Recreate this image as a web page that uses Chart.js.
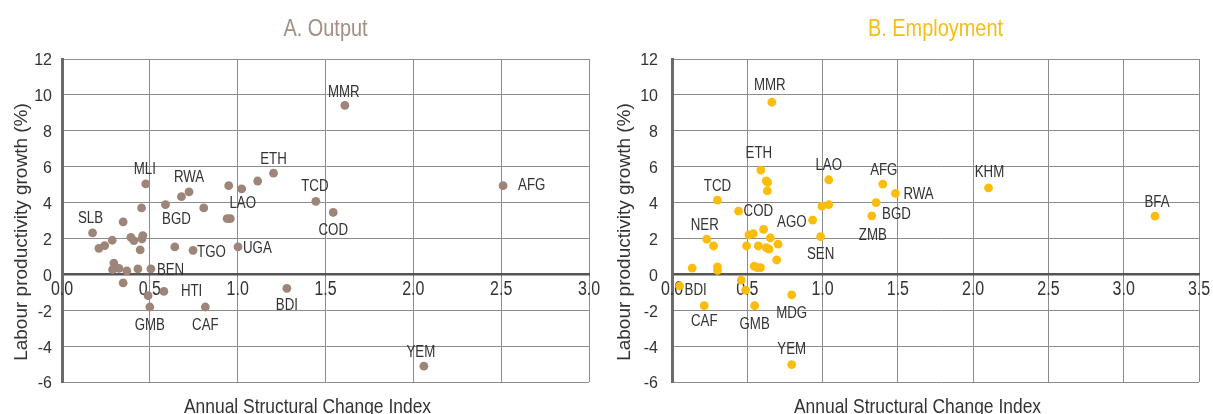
<!DOCTYPE html>
<html>
<head>
<meta charset="utf-8">
<script src="https://cdn.jsdelivr.net/npm/chart.js@4/dist/chart.umd.min.js"></script>
<style>
  body { margin: 0; background: #fff; width: 1213px; height: 414px; overflow: hidden; position: relative; }
  canvas { position: absolute; top: 0; }
  #output-chart { left: 0; }
  #employment-chart { left: 606px; }
</style>
</head>
<body>
<canvas id="output-chart" width="606" height="414"></canvas>
<canvas id="employment-chart" width="607" height="414"></canvas>
<script>
// A. Output
const outputCodes = ['MLI', 'RWA', '', '', 'LAO', '', 'ETH', '', 'BGD', '', '', '', '', 'SLB', '', '', '', '', '', '', '', '',
    '', 'TGO', 'UGA', '', '', '', '', '', 'BEN', '', 'HTI', '', 'GMB', 'CAF', 'BDI', 'MMR', 'TCD', 'COD', 'AFG', 'YEM'];
const outputX = [0.477, 0.723, 0.68, 0.949, 1.023, 1.114, 1.204, 0.453, 0.589, 0.807, 0.94, 0.958, 0.348, 0.174, 0.392, 0.409,
    0.46, 0.455, 0.286, 0.243, 0.21, 0.445, 0.642, 0.746, 1.002, 0.295, 0.288, 0.324, 0.369, 0.432, 0.506, 0.348, 0.58, 0.49,
    0.50, 0.816, 1.28, 1.61, 1.445, 1.544, 2.511, 2.06];
const outputY = [5.04, 4.59, 4.33, 4.94, 4.76, 5.20, 5.64, 3.70, 3.88, 3.70, 3.10, 3.10, 2.92, 2.31, 2.06, 1.88,
    2.16, 1.97, 1.90, 1.60, 1.45, 1.36, 1.53, 1.34, 1.53, 0.63, 0.26, 0.33, 0.19, 0.30, 0.30, -0.48, -0.95, -1.19,
    -1.82, -1.82, -0.78, 9.42, 4.07, 3.45, 4.94, -5.12];

// B. Employment
const employmentCodes = ['ETH', '', '', '', 'LAO', 'AFG', 'RWA', 'TCD', 'BGD', 'ZMB', 'COD', '', '', 'AGO', 'SEN', '', '', '',
    '', '', 'NER', '', '', '', '', '', '', '', '', '', '', '', '', '', '', 'BDI', 'MDG', 'CAF', 'GMB', 'YEM', 'MMR', 'KHM', 'BFA'];
const employmentX = [0.590, 0.626, 0.635, 0.633, 1.041, 1.40, 1.484, 0.302, 1.355, 1.327, 0.442, 0.996, 1.041, 0.934, 0.987,
    0.608, 0.511, 0.54, 0.653, 0.704, 0.231, 0.276, 0.495, 0.573, 0.626, 0.644, 0.695, 0.134, 0.302, 0.302, 0.546, 0.566,
    0.588, 0.46, 0.489, 0.05, 0.795, 0.214, 0.549, 0.795, 0.663, 2.102, 3.208];
const employmentY = [5.81, 5.21, 5.12, 4.65, 5.27, 5.03, 4.51, 4.13, 4.0, 3.26, 3.52, 3.80, 3.89, 3.02, 2.10,
    2.50, 2.20, 2.27, 2.03, 1.68, 1.96, 1.58, 1.58, 1.58, 1.49, 1.40, 0.80, 0.35, 0.41, 0.22, 0.45, 0.37,
    0.37, -0.32, -0.88, -0.65, -1.14, -1.75, -1.75, -5.03, 9.59, 4.82, 3.24];

const outputTicksX = [0, 3, 0.5];
const employmentTicksX = [0, 3.5, 0.5];
const ticksY = [-6, 12, 2];

// where each country label sits next to its dot: [dx, dy, align]
const outputLabelPos = {
    MLI: [-1, -14, 'center'], RWA: [0, -14, 'center'], LAO: [1, 15, 'center'], ETH: [0, -14, 'center'],
    BGD: [11, 15, 'center'], SLB: [-2, -14, 'center'], TGO: [4, 2, 'left'], UGA: [5, 2, 'left'],
    BEN: [6, 2, 'left'], HTI: [17, 0, 'left'], GMB: [0, 19, 'center'], CAF: [0, 19, 'center'],
    BDI: [0, 17, 'center'], MMR: [-1, -13, 'center'], TCD: [-1, -15, 'center'], COD: [0, 18, 'center'],
    AFG: [15, 0, 'left'], YEM: [-3, -14, 'center']
};
const employmentLabelPos = {
    ETH: [-2, -16, 'center'], LAO: [0, -14, 'center'], AFG: [1, -13, 'center'], RWA: [8, 1, 'left'],
    TCD: [0, -14, 'center'], BGD: [6, 12, 'left'], ZMB: [1, 20, 'center'], COD: [5, 0, 'left'],
    AGO: [-6, 2, 'right'], SEN: [0, 18, 'center'], NER: [-2, -14, 'center'], BDI: [5, 5, 'left'],
    MDG: [0, 19, 'center'], CAF: [0, 16, 'center'], GMB: [0, 19, 'center'], YEM: [0, -15, 'center'],
    MMR: [-2, -17, 'center'], KHM: [1, -15, 'center'], BFA: [2, -14, 'center']
};

const regular = '"Liberation Sans", Arial, sans-serif';
const textColor = '#333333';
const gridColor = '#8c8c8c';

// no narrow font installed, so squeeze Liberation Sans horizontally
const drawText = (ctx, text, x, y, size, align, squeeze) => {
    ctx.save();
    ctx.translate(x, y);
    ctx.scale(squeeze, 1);
    ctx.font = size + 'px ' + regular;
    ctx.textAlign = align;
    ctx.fillText(text, 0, 0);
    ctx.restore();
};

// tick labels drawn by hand so they can use the squeezed font
const tickText = {
    id: 'tickText',
    beforeDatasetsDraw(chart, args, opts) {
        const ctx = chart.ctx;
        const xs = chart.scales.x;
        const ys = chart.scales.y;
        const zero = ys.getPixelForValue(0);
        ctx.save();
        ctx.fillStyle = textColor;
        ctx.textBaseline = 'middle';
        xs.ticks.forEach(t => {
            drawText(ctx, t.value.toFixed(1), xs.getPixelForValue(t.value), zero + 15, 20, 'center', 0.8);
        });
        ys.ticks.forEach(t => {
            drawText(ctx, String(t.value), chart.chartArea.left - opts.yPad, ys.getPixelForValue(t.value) + 2, 16, 'right', 1);
        });
        ctx.restore();
    }
};

// country codes next to the dots
const pointLabels = {
    id: 'pointLabels',
    afterDatasetsDraw(chart, args, opts) {
        const ctx = chart.ctx;
        const meta = chart.getDatasetMeta(0);
        ctx.save();
        ctx.fillStyle = textColor;
        ctx.textBaseline = 'middle';
        opts.codes.forEach((code, i) => {
            if (!code) return;
            const pos = opts.positions[code] || [0, -14, 'center'];
            const pt = meta.data[i];
            drawText(ctx, code, pt.x + pos[0], pt.y + pos[1], 16, pos[2], 0.83);
        });
        ctx.restore();
    }
};

// panel title and axis titles
const decor = {
    id: 'decor',
    afterDraw(chart, args, opts) {
        const ctx = chart.ctx;
        const a = chart.chartArea;
        const midX = (a.left + a.right) / 2;
        ctx.save();
        ctx.textBaseline = 'middle';
        ctx.fillStyle = opts.titleColor;
        drawText(ctx, opts.title, midX, 29, 24, 'center', 0.83);

        ctx.fillStyle = textColor;
        ctx.textBaseline = 'alphabetic';
        drawText(ctx, 'Annual Structural Change Index', midX - 18, 413, 21, 'center', 0.83);

        ctx.translate(opts.yTitleX, 232);
        ctx.rotate(-Math.PI / 2);
        ctx.textBaseline = 'middle';
        drawText(ctx, 'Labour productivity growth (%)', 0, 0, 19, 'center', 1);
        ctx.restore();
    }
};

const makeChart = (canvas, codes, xs, ys, xTicks, cfg) => {
    const points = xs.map((x, i) => ({ x: x, y: ys[i] }));
    return new Chart(canvas, {
        type: 'scatter',
        data: {
            datasets: [{
                data: points,
                backgroundColor: cfg.dotColor,
                borderWidth: 0,
                pointRadius: 4.4,
                pointHoverRadius: 4.4
            }]
        },
        options: {
            responsive: false,
            animation: false,
            events: [],
            layout: { padding: { left: 0, top: 59, right: cfg.padRight, bottom: 32 } },
            scales: {
                x: {
                    type: 'linear',
                    position: { y: 0 },
                    min: xTicks[0],
                    max: xTicks[1],
                    afterFit: (scale) => { scale.height = 0; },
                    ticks: { stepSize: xTicks[2], autoSkip: false, display: false },
                    grid: { color: gridColor, lineWidth: 1, drawTicks: false },
                    border: { display: true, color: '#555555', width: 2.5 }
                },
                y: {
                    type: 'linear',
                    position: 'left',
                    min: ticksY[0],
                    max: ticksY[1],
                    afterFit: (scale) => { scale.width = cfg.yWidth; },
                    ticks: { stepSize: ticksY[2], display: false },
                    grid: { color: gridColor, lineWidth: 1, drawTicks: false },
                    border: { display: true, color: '#6b6b6b', width: 3 }
                }
            },
            plugins: {
                legend: { display: false },
                tooltip: { enabled: false },
                tickText: { yPad: cfg.yPad },
                pointLabels: { codes: codes, positions: cfg.labelPos },
                decor: { title: cfg.title, titleColor: cfg.titleColor, yTitleX: cfg.yTitleX }
            }
        },
        plugins: [tickText, pointLabels, decor]
    });
};

const outputChart = makeChart(document.getElementById('output-chart'), outputCodes, outputX, outputY, outputTicksX, {
    title: 'A. Output', titleColor: '#a28e84', dotColor: '#9e8579',
    yWidth: 62, yPad: 10, padRight: 17, yTitleX: 22, labelPos: outputLabelPos
});
const employmentChart = makeChart(document.getElementById('employment-chart'), employmentCodes, employmentX, employmentY,
    employmentTicksX, {
    title: 'B. Employment', titleColor: '#f6bd16', dotColor: '#fbbd0c',
    yWidth: 66, yPad: 14, padRight: 14, yTitleX: 19, labelPos: employmentLabelPos
});
</script>
</body>
</html>
